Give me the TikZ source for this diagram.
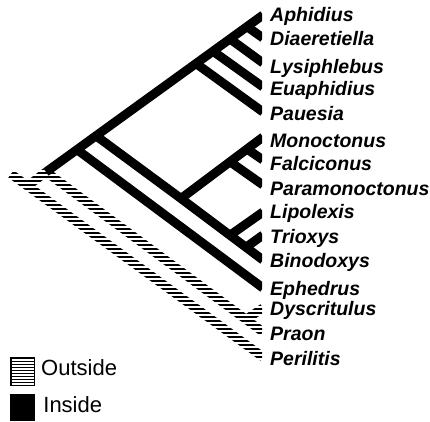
\documentclass[tikz,border=0pt]{standalone}
\usepackage{fontspec}
\setmainfont{Liberation Sans}
\usetikzlibrary{positioning,calc,patterns}

% wide tiles of horizontal lines
\pgfdeclarepatternformonly{outsidelines}{\pgfqpoint{-1pt}{-1pt}}{\pgfqpoint{201pt}{1pt}}%
  {\pgfqpoint{200pt}{4pt}}%
  {\pgfsetlinewidth{1.5pt}\pgfpathmoveto{\pgfqpoint{-1pt}{0pt}}%
   \pgfpathlineto{\pgfqpoint{201pt}{0pt}}\pgfusepath{stroke}}
\pgfdeclarepatternformonly{keylines}{\pgfqpoint{-1pt}{-1pt}}{\pgfqpoint{201pt}{1pt}}%
  {\pgfqpoint{200pt}{3pt}}%
  {\pgfsetlinewidth{0.8pt}\pgfpathmoveto{\pgfqpoint{-1pt}{0pt}}%
   \pgfpathlineto{\pgfqpoint{201pt}{0pt}}\pgfusepath{stroke}}

% hatched (outside) branch as a band between two named points
\newcommand{\hatchbranch}[2]{%
  \path[outhatch] ($(#1)!4.5pt!90:(#2)$) -- ($(#2)!4.5pt!-90:(#1)$)
    -- ($(#2)!4.5pt!90:(#1)$) -- ($(#1)!4.5pt!-90:(#2)$) -- cycle;}

\begin{document}
\begin{tikzpicture}[
  x=1pt, y=-1pt,
  inbranch/.style={line width=9pt},
  outhatch/.style={pattern=outsidelines},
  keyhatch/.style={pattern=keylines},
  taxon/.style={anchor=base west, inner sep=0pt,
                font=\fontsize{19.5}{19.5}\selectfont\bfseries\itshape},
  keybox/.style={inner sep=0pt},
  keytext/.style={anchor=west, inner sep=0pt, font=\fontsize{22}{22}\selectfont}
]
\useasboundingbox (0,0) rectangle (430,421);

% tips
\coordinate (aphidius)       at (263,15);
\coordinate (diaeretiella)   at (263,38);
\coordinate (lysiphlebus)    at (263,63);
\coordinate (euaphidius)     at (263,87);
\coordinate (pauesia)        at (263,112);
\coordinate (monoctonus)     at (263,137);
\coordinate (falciconus)     at (263,160);
\coordinate (paramonoctonus) at (263,185);
\coordinate (lipolexis)      at (263,212);
\coordinate (trioxys)        at (263,235);
\coordinate (binodoxys)      at (263,260);
\coordinate (ephedrus)       at (263,288);
\coordinate (dyscritulus)    at (263,308);
\coordinate (praon)          at (263,332);
\coordinate (perilitis)      at (263,357);

% clades
\coordinate (stem)        at (11,174);
\coordinate (root)        at (27.5,186);
\coordinate (ingroup)     at (46,172);
\coordinate (praonclade)  at (246,319.4);
\coordinate (aphidiinae)  at (77,149.6);
\coordinate (crown)       at (96,135.8);
\coordinate (aphidiini)   at (196,63.5);
\coordinate (aphC)        at (213,51.2);
\coordinate (aphB)        at (230,38.9);
\coordinate (aphA)        at (247,26.6);
\coordinate (trimono)     at (181,198.5);
\coordinate (monoctonina) at (230,161.75);
\coordinate (monoA)       at (247,149);
\coordinate (trioxini)    at (230,235.25);
\coordinate (trioA)       at (246,247.25);

\begin{scope}
\clip (0,0) rectangle (262,421);
\hatchbranch{stem}{root}
\hatchbranch{root}{perilitis}
\hatchbranch{root}{ingroup}
\hatchbranch{ingroup}{praonclade}
\hatchbranch{praonclade}{praon}
\hatchbranch{praonclade}{dyscritulus}

\draw[inbranch] (ingroup) -- (aphidiinae) -- (crown) -- (aphidiini)
  -- (aphC) -- (aphB) -- (aphA) -- (aphidius);
\draw[inbranch] (aphA) -- (diaeretiella);
\draw[inbranch] (aphB) -- (lysiphlebus);
\draw[inbranch] (aphC) -- (euaphidius);
\draw[inbranch] (aphidiini) -- (pauesia);
\draw[inbranch] (aphidiinae) -- (ephedrus);
\draw[inbranch] (crown) -- (trimono) -- (trioxini) -- (trioA) -- (binodoxys);
\draw[inbranch] (trimono) -- (monoctonina) -- (monoA) -- (monoctonus);
\draw[inbranch] (monoA) -- (falciconus);
\draw[inbranch] (monoctonina) -- (paramonoctonus);
\draw[inbranch] (trioxini) -- (lipolexis);
\draw[inbranch] (trioA) -- (trioxys);
\end{scope}

\node[taxon] (n-aphidius)       at (270,21)  {Aphidius};
\node[taxon] (n-diaeretiella)   at (270,45)  {Diaeretiella};
\node[taxon] (n-lysiphlebus)    at (270,73)  {Lysiphlebus};
\node[taxon] (n-euaphidius)     at (270,95)  {Euaphidius};
\node[taxon] (n-pauesia)        at (270,120) {Pauesia};
\node[taxon] (n-monoctonus)     at (270,147) {Monoctonus};
\node[taxon] (n-falciconus)     at (270,170) {Falciconus};
\node[taxon] (n-paramonoctonus) at (270,195) {Paramonoctonus};
\node[taxon] (n-lipolexis)      at (270,218) {Lipolexis};
\node[taxon] (n-trioxys)        at (270,243) {Trioxys};
\node[taxon] (n-binodoxys)      at (270,267) {Binodoxys};
\node[taxon] (n-ephedrus)       at (270,295) {Ephedrus};
\node[taxon] (n-dyscritulus)    at (270,315) {Dyscritulus};
\node[taxon] (n-praon)          at (270,340) {Praon};
\node[taxon] (n-perilitis)      at (270,365) {Perilitis};

% key
\node[keybox, draw, line width=1.5pt, keyhatch, minimum width=23.5pt,
      minimum height=27.5pt] (outbox) at (22.5,371.5) {};
\node[keybox, fill=black, minimum width=25pt, minimum height=27pt]
      (inbox) at (22.5,407.5) {};
\node[keytext, right=6pt of outbox, yshift=4pt] (outlabel) {Outside};
\node[keytext, right=8pt of inbox, yshift=2.5pt] (inlabel) {Inside};
\end{tikzpicture}
\end{document}
